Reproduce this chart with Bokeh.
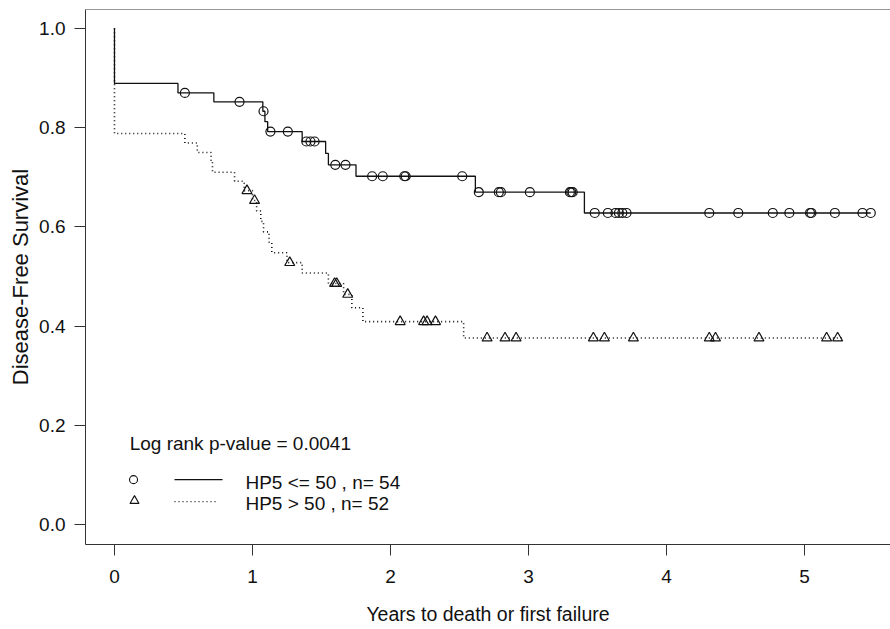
from bokeh.plotting import figure
from bokeh.models import Range1d, FixedTicker, Span, NumeralTickFormatter
from bokeh.core.properties import value
from bokeh.embed import file_html
from bokeh.resources import INLINE

# Kaplan-Meier curve for HP5 <= 50 (step points: time in years, survival)
low_hp5_times = [0.0, 0.0, 0.46, 0.72, 1.075, 1.09, 1.11, 1.36, 1.53, 1.55, 1.75, 2.615, 3.405, 5.48]
low_hp5_surv = [1.0, 0.889, 0.870, 0.852, 0.833, 0.812, 0.792, 0.772, 0.748, 0.725, 0.702, 0.670, 0.628, 0.628]
# censored observations, HP5 <= 50
low_hp5_cens_t = [0.51, 0.906, 1.08, 1.13, 1.256, 1.39, 1.42, 1.45, 1.60, 1.674,
                  1.867, 1.944, 2.10, 2.11, 2.52, 2.64, 2.785, 2.80, 3.01, 3.30, 3.31, 3.32,
                  3.48, 3.575, 3.63, 3.655, 3.68, 3.71, 4.31, 4.52, 4.77, 4.89, 5.04, 5.05,
                  5.22, 5.42, 5.48]
low_hp5_cens_s = [0.870, 0.852, 0.833, 0.792, 0.792, 0.772, 0.772, 0.772, 0.725, 0.725,
                  0.702, 0.702, 0.702, 0.702, 0.702, 0.670, 0.670, 0.670, 0.670, 0.670, 0.670, 0.670,
                  0.628, 0.628, 0.628, 0.628, 0.628, 0.628, 0.628, 0.628, 0.628, 0.628, 0.628, 0.628,
                  0.628, 0.628, 0.628]

# Kaplan-Meier curve for HP5 > 50
high_hp5_times = [0.0, 0.0, 0.51, 0.60, 0.70, 0.71, 0.87, 0.94, 1.00, 1.03, 1.06, 1.08, 1.12, 1.14,
                  1.25, 1.36, 1.55, 1.66, 1.72, 1.80, 2.53, 5.27]
high_hp5_surv = [1.0, 0.788, 0.769, 0.750, 0.731, 0.710, 0.692, 0.673, 0.653, 0.632, 0.611, 0.590,
                 0.569, 0.548, 0.528, 0.507, 0.486, 0.464, 0.437, 0.409, 0.376, 0.376]
# censored observations, HP5 > 50
high_hp5_cens_t = [0.96, 1.015, 1.27, 1.595, 1.61, 1.69, 2.07, 2.24, 2.265, 2.326,
                   2.70, 2.83, 2.91, 3.47, 3.55, 3.76, 4.31, 4.355, 4.67, 5.16, 5.24]
high_hp5_cens_s = [0.673, 0.653, 0.528, 0.486, 0.486, 0.464, 0.409, 0.409, 0.409, 0.409,
                   0.376, 0.376, 0.376, 0.376, 0.376, 0.376, 0.376, 0.376, 0.376, 0.376, 0.376]

x_ticks = [0, 1, 2, 3, 4, 5]
y_ticks = [0.0, 0.2, 0.4, 0.6, 0.8, 1.0]

pvalue_text = "Log rank p-value = 0.0041"
group_labels = ["HP5 <= 50 , n= 54", "HP5 > 50 , n= 52"]

FONT = "Liberation Sans"
INK = "#111111"
AXIS = "#333333"

y_top = 1.038
p = figure(width=890, height=629,
           x_range=Range1d(-0.21, 5.623), y_range=Range1d(-0.040, y_top),
           output_backend="svg", toolbar_location=None,
           min_border_left=85, min_border_right=0, min_border_top=9, min_border_bottom=85)
p.title.visible = False
p.outline_line_color = None
p.xgrid.visible = False
p.ygrid.visible = False
p.background_fill_color = "white"
p.border_fill_color = "white"

# axes
for ax in (p.xaxis[0], p.yaxis[0]):
    ax.axis_line_color = AXIS
    ax.axis_line_width = 1
    ax.major_tick_line_color = AXIS
    ax.major_tick_out = 11
    ax.major_tick_in = 0
    ax.minor_tick_line_color = None
    ax.major_label_text_font = FONT
    ax.major_label_text_font_size = "19px"
    ax.major_label_text_color = INK
    ax.axis_label_text_font = FONT
    ax.axis_label_text_font_style = "normal"
    ax.axis_label_text_color = INK

p.xaxis.ticker = FixedTicker(ticks=x_ticks)
p.yaxis.ticker = FixedTicker(ticks=y_ticks)
p.yaxis.formatter = NumeralTickFormatter(format="0.0")
p.xaxis.axis_label = "Years to death or first failure"
p.yaxis.axis_label = "Disease-Free Survival"
p.xaxis.axis_label_text_font_size = "19.5px"
p.yaxis.axis_label_text_font_size = "22px"
p.xaxis.major_label_standoff = 14
p.xaxis.axis_label_standoff = 17
p.yaxis.major_label_standoff = 9
p.yaxis.axis_label_standoff = 3

# top frame line
p.add_layout(Span(location=y_top, dimension="width", line_color=AXIS, line_width=1))

# survival curves
p.step(low_hp5_times, low_hp5_surv, mode="after", line_color=INK, line_width=1.3)
p.step(high_hp5_times, high_hp5_surv, mode="after", line_color=INK, line_width=1.6,
       line_dash="1 3")

# censor marks
p.scatter(low_hp5_cens_t, low_hp5_cens_s, marker="circle", size=9,
          fill_color=None, line_color=INK, line_width=1.2)
p.scatter(high_hp5_cens_t, high_hp5_cens_s, marker="triangle", size=10,
          fill_color=None, line_color=INK, line_width=1.2)

# annotation block: p-value and group key
p.text(x=[0.11], y=[0.163], text=[pvalue_text], text_font=value(FONT),
       text_font_size="19px", text_color=INK, text_baseline="alphabetic", text_align="left")
p.scatter([0.138], [0.0907], marker="circle", size=8, fill_color=None, line_color=INK, line_width=1.1)
p.scatter([0.145], [0.048], marker="triangle", size=9, fill_color=None, line_color=INK, line_width=1.1)
p.line([0.435, 0.783], [0.0907, 0.0907], line_color=INK, line_width=1.2)
p.line([0.435, 0.754], [0.0464, 0.0464], line_color=INK, line_width=1.4, line_dash="1 3")
p.text(x=[0.949, 0.949], y=[0.0856, 0.043], text=group_labels, text_font=value(FONT),
       text_font_size="19px", text_color=INK, text_baseline="alphabetic", text_align="left")

open("out.html", "w").write(file_html(p, INLINE))
